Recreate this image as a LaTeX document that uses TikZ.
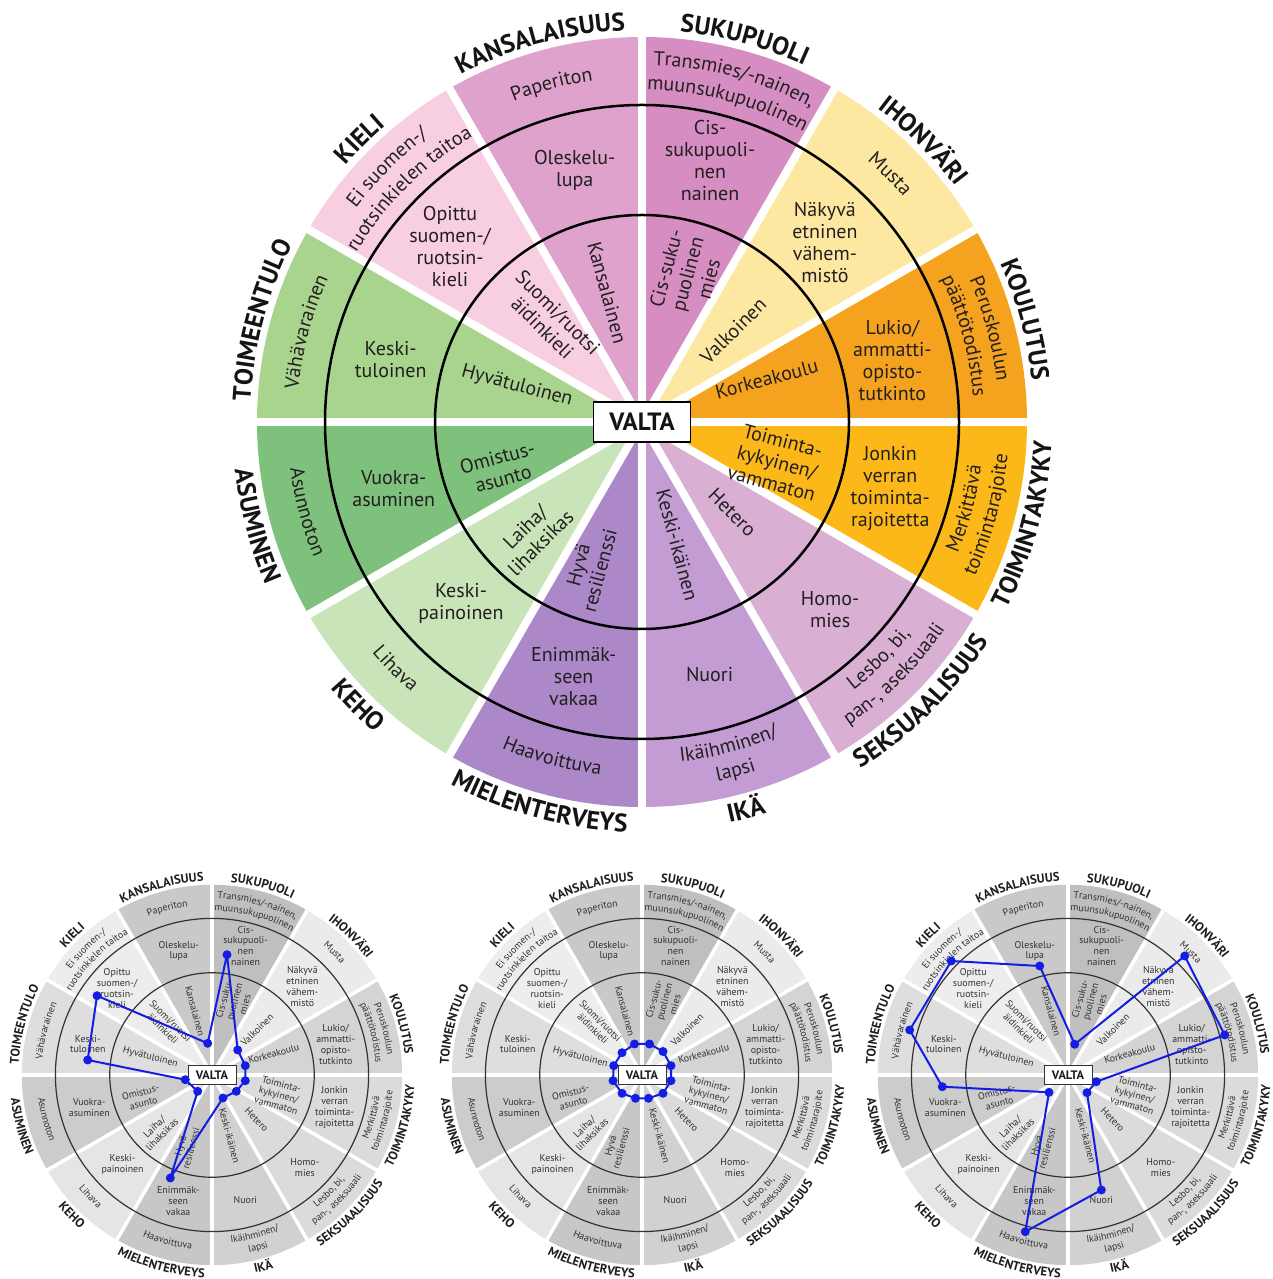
\documentclass[tikz,border=0pt]{standalone}
\usepackage{fontspec}
\setmainfont{PT Sans}
\usetikzlibrary{decorations.text}

% colour wheel
\definecolor{cKAN}{RGB}{222,162,204}
\definecolor{cSUK}{RGB}{214,141,193}
\definecolor{cIHO}{RGB}{253,232,162}
\definecolor{cKOU}{RGB}{245,163,30}
\definecolor{cTOI}{RGB}{251,184,24}
\definecolor{cSEK}{RGB}{218,175,212}
\definecolor{cIKA}{RGB}{194,156,210}
\definecolor{cMIE}{RGB}{172,136,200}
\definecolor{cKEH}{RGB}{200,228,184}
\definecolor{cASU}{RGB}{126,193,124}
\definecolor{cTOIM}{RGB}{168,212,142}
\definecolor{cKIE}{RGB}{248,206,225}
\definecolor{ctxt}{RGB}{35,31,32}
\definecolor{clab}{RGB}{20,20,20}
\definecolor{cring}{RGB}{0,0,0}
% grey wheels
\definecolor{gKAN}{gray}{0.79}
\definecolor{gSUK}{gray}{0.75}
\definecolor{gIHO}{gray}{0.92}
\definecolor{gKOU}{gray}{0.83}
\definecolor{gTOI}{gray}{0.86}
\definecolor{gSEK}{gray}{0.86}
\definecolor{gIKA}{gray}{0.82}
\definecolor{gMIE}{gray}{0.78}
\definecolor{gKEH}{gray}{0.90}
\definecolor{gASU}{gray}{0.80}
\definecolor{gTOIM}{gray}{0.87}
\definecolor{gKIE}{gray}{0.93}
\definecolor{gtxt}{RGB}{50,50,50}
\definecolor{glab}{RGB}{30,30,30}
\definecolor{gring}{RGB}{50,50,50}
\definecolor{dotblue}{RGB}{20,30,225}

\newcommand\usecols[1]{%
\colorlet{wKAN}{#1KAN}\colorlet{wSUK}{#1SUK}\colorlet{wIHO}{#1IHO}%
\colorlet{wKOU}{#1KOU}\colorlet{wTOI}{#1TOI}\colorlet{wSEK}{#1SEK}%
\colorlet{wIKA}{#1IKA}\colorlet{wMIE}{#1MIE}\colorlet{wKEH}{#1KEH}%
\colorlet{wASU}{#1ASU}\colorlet{wTOIM}{#1TOIM}\colorlet{wKIE}{#1KIE}%
\colorlet{wtxt}{#1txt}\colorlet{wlab}{#1lab}\colorlet{wring}{#1ring}}

\newcommand\itemfont{\fontsize{\wfi}{\wfib}\selectfont}
\newcommand\labfont{\bfseries\fontsize{\wfl}{\wfl}\selectfont}
\newcommand\valfont{\bfseries\fontsize{\wfv}{\wfv}\selectfont}

% curved text: angle, baseline radius, font, colour, text
\newcommand\wtop[5]{\path[decorate,decoration={text along path,text align=center,text color=#4,text={|#3|#5}}]
  ({#1+40}:{#2*\wsc}) arc[start angle={#1+40},end angle={#1-40},radius={#2*\wsc}];}
\newcommand\wbot[5]{\path[decorate,decoration={text along path,text align=center,text color=#4,text={|#3|#5}}]
  ({#1-40}:{#2*\wsc}) arc[start angle={#1-40},end angle={#1+40},radius={#2*\wsc}];}
% middle ring: name, angle, radius, text
\newcommand\wmid[4]{\node[itm] (\wp-#1-mid) at ({#2}:{#3*\wsc}) {#4};}
% inner ring: name, angle, radius, rotation, text
\newcommand\winn[5]{\node[itm,rotate=#4] (\wp-#1-in) at ({#2}:{#3*\wsc}) {#5};}

\newcommand\drawwheel[3]{%
\def\wp{#3}%
\begin{scope}[shift={(#1,#2)}]
\pgfmathsetmacro\wR{385*\wsc}
\foreach \a/\cc in {0/wKOU,30/wIHO,60/wSUK,90/wKAN,120/wKIE,150/wTOIM,180/wASU,210/wKEH,240/wMIE,270/wIKA,300/wSEK,330/wTOI}{%
  \fill[\cc] (0,0) -- (\a:\wR) arc[start angle=\a,delta angle=30,radius=\wR] -- cycle;}
\foreach \a in {0,30,...,330}{\draw[white,line width=\gapw] (0,0) -- (\a:{\wR+6});}
\draw[wring,line width=\ringw] (0,0) circle[radius={207*\wsc}];
\draw[wring,line width=\ringw] (0,0) circle[radius={317*\wsc}];
% category labels
\wtop{105}{392}{\labfont}{wlab}{KANSALAISUUS}
\wtop{75}{392}{\labfont}{wlab}{SUKUPUOLI}
\wtop{45}{392}{\labfont}{wlab}{IHONVÄRI}
\wtop{15}{392}{\labfont}{wlab}{KOULUTUS}
\wtop{165}{392}{\labfont}{wlab}{TOIMEENTULO}
\wtop{135}{392}{\labfont}{wlab}{KIELI}
\wbot{345}{410}{\labfont}{wlab}{TOIMINTAKYKY}
\wbot{315}{410}{\labfont}{wlab}{SEKSUAALISUUS}
\wbot{285}{410}{\labfont}{wlab}{IKÄ}
\wbot{255}{410}{\labfont}{wlab}{MIELENTERVEYS}
\wbot{225}{410}{\labfont}{wlab}{KEHO}
\wbot{195}{410}{\labfont}{wlab}{ASUMINEN}
% outer ring
\wtop{105}{345}{\itemfont}{wtxt}{Paperiton}
\wtop{75}{357}{\itemfont}{wtxt}{Transmies/-nainen,}
\wtop{75}{332}{\itemfont}{wtxt}{muunsukupuolinen}
\wtop{45}{345}{\itemfont}{wtxt}{Musta}
\wtop{15}{357}{\itemfont}{wtxt}{Peruskoulun}
\wtop{15}{332}{\itemfont}{wtxt}{päättötodistus}
\wbot{345}{342}{\itemfont}{wtxt}{Merkittävä}
\wbot{345}{367}{\itemfont}{wtxt}{toimintarajoite}
\wbot{315}{342}{\itemfont}{wtxt}{Lesbo, bi,}
\wbot{315}{367}{\itemfont}{wtxt}{pan-, aseksuaali}
\wbot{285}{342}{\itemfont}{wtxt}{Ikäihminen/}
\wbot{285}{367}{\itemfont}{wtxt}{lapsi}
\wbot{255}{355}{\itemfont}{wtxt}{Haavoittuva}
\wbot{225}{355}{\itemfont}{wtxt}{Lihava}
\wbot{195}{355}{\itemfont}{wtxt}{Asunnoton}
\wtop{165}{345}{\itemfont}{wtxt}{Vähävarainen}
\wtop{135}{357}{\itemfont}{wtxt}{Ei suomen-/}
\wtop{135}{332}{\itemfont}{wtxt}{ruotsinkielen taitoa}
% middle ring
\wmid{kan}{105}{260}{Oleskelu-\\lupa}
\wmid{suk}{75.4}{270}{Cis-\\sukupuoli-\\nen\\nainen}
\wmid{iho}{44.4}{256}{Näkyvä\\etninen\\vähem-\\mistö}
\wmid{kou}{13.9}{258}{Lukio/\\ammatti-\\opisto-\\tutkinto}
\wmid{toi}{-15}{257}{Jonkin\\verran\\toiminta-\\rajoitetta}
\wmid{sek}{-45}{266}{Homo-\\mies}
\wmid{ika}{-75}{261}{Nuori}
\wmid{mie}{255}{264}{Enimmäk-\\seen\\vakaa}
\wmid{keh}{225}{256}{Keski-\\painoinen}
\wmid{asu}{195}{257}{Vuokra-\\asuminen}
\wmid{toim}{166}{259}{Keski-\\tuloinen}
\wmid{kie}{137.6}{260}{Opittu\\suomen-/\\ruotsin-\\kieli}
% inner ring
\winn{kan}{105}{134}{-75}{Kansalainen}
\winn{suk}{73}{155}{75}{Cis-suku-\\puolinen\\mies}
\winn{iho}{45}{129}{45}{Valkoinen}
\winn{kou}{19}{132}{15}{Korkeakoulu}
\winn{toi}{-16.5}{141}{-15}{Toiminta-\\kykyinen/\\vammaton}
\winn{sek}{-45}{128}{-45}{Hetero}
\winn{ika}{-74}{128}{-75}{Keski-ikäinen}
\winn{mie}{250}{155}{75}{Hyvä\\resilienssi}
\winn{keh}{226}{157}{45}{Laiha/\\lihaksikas}
\winn{asu}{198}{149}{15}{Omistus-\\asunto}
\winn{toim}{164}{130}{-15}{Hyvätuloinen}
\winn{kie}{132}{137}{-45}{Suomi/ruotsi\\äidinkieli}
\node[draw=wring,fill=white,line width=\valw,minimum width={97*\wsc},minimum height={40*\wsc},
  inner sep=0pt,font=\valfont,text=wlab] (\wp-valta) at (0,0) {VALTA};
\end{scope}}

\begin{document}
\begin{tikzpicture}[x=1pt,y=1pt,
  itm/.style={font=\itemfont,text=wtxt,align=center,inner sep=0pt},
  bline/.style={draw=dotblue,line width=2pt,line join=round},
  bdot/.style={circle,fill=dotblue,inner sep=0pt,minimum size=9pt}]
\useasboundingbox (0,0) rectangle (1272,1279);
\fill[white] (0,0) rectangle (1272,1279);

% main colour wheel
\def\wsc{1}\def\wfi{20}\def\wfib{22}\def\wfl{25.5}\def\wfv{25}
\def\gapw{8pt}\def\ringw{2.5pt}\def\valw{1.6pt}
\usecols{c}
\drawwheel{642}{857}{M}

% small grey wheels
\def\wsc{0.494}\def\wfi{9.9}\def\wfib{10.9}\def\wfl{12.6}\def\wfv{12.3}
\def\gapw{3.5pt}\def\ringw{1.2pt}\def\valw{0.9pt}
\usecols{g}
\drawwheel{212}{204}{A}
\drawwheel{642}{204}{B}
\drawwheel{1068}{204}{C}

% wheel A path
\begin{scope}[shift={(212,204)}]
\coordinate (A1) at (15,120.3);
\coordinate (A2) at (25.7,25);
\coordinate (A3) at (33.3,9.3);
\coordinate (A4) at (33.3,-5.7);
\coordinate (A5) at (24.3,-16.3);
\coordinate (A6) at (11,-23);
\coordinate (A7) at (-41.7,-103);
\coordinate (A8) at (-14.3,-16.3);
\coordinate (A9) at (-26.7,-4.7);
\coordinate (A10) at (-124.3,15);
\coordinate (A11) at (-115,79.3);
\coordinate (A12) at (-4.3,31.7);
\draw[bline] (A1)--(A2)--(A3)--(A4)--(A5)--(A6)--(A7)--(A8)--(A9)--(A10)--(A11)--(A12)--cycle;
\foreach \i in {1,...,12}{\node[bdot] (dA\i) at (A\i) {};}
\end{scope}

% wheel B path
\begin{scope}[shift={(642,204)}]
\coordinate (B1) at (-28.3,9.3);
\coordinate (B2) at (-20,22.3);
\coordinate (B3) at (-7.5,31);
\coordinate (B4) at (7.5,31);
\coordinate (B5) at (21,23.5);
\coordinate (B6) at (29,9.3);
\coordinate (B7) at (29,-5.7);
\coordinate (B8) at (21,-18.3);
\coordinate (B9) at (6.5,-23.3);
\coordinate (B10) at (-6.5,-23.3);
\coordinate (B11) at (-20,-18.3);
\coordinate (B12) at (-29,-5.7);
\draw[bline] (B1)--(B2)--(B3)--(B4)--(B5)--(B6)--(B7)--(B8)--(B9)--(B10)--(B11)--(B12)--cycle;
\foreach \i in {1,...,12}{\node[bdot] (dB\i) at (B\i) {};}
\end{scope}

% wheel C path
\begin{scope}[shift={(1068,204)}]
\coordinate (C1) at (-116.7,114);
\coordinate (C2) at (-28.3,109);
\coordinate (C3) at (6.7,30.7);
\coordinate (C4) at (116.7,119);
\coordinate (C5) at (156.7,40);
\coordinate (C6) at (28.3,-6.7);
\coordinate (C7) at (19,-17.7);
\coordinate (C8) at (33.3,-115);
\coordinate (C9) at (-42.7,-156.7);
\coordinate (C10) at (-19,-17.3);
\coordinate (C11) at (-125.7,-11.7);
\coordinate (C12) at (-158.3,45);
\draw[bline] (C1)--(C2)--(C3)--(C4)--(C5)--(C6)--(C7)--(C8)--(C9)--(C10)--(C11)--(C12)--cycle;
\foreach \i in {1,...,12}{\node[bdot] (dC\i) at (C\i) {};}
\end{scope}
\end{tikzpicture}
\end{document}
